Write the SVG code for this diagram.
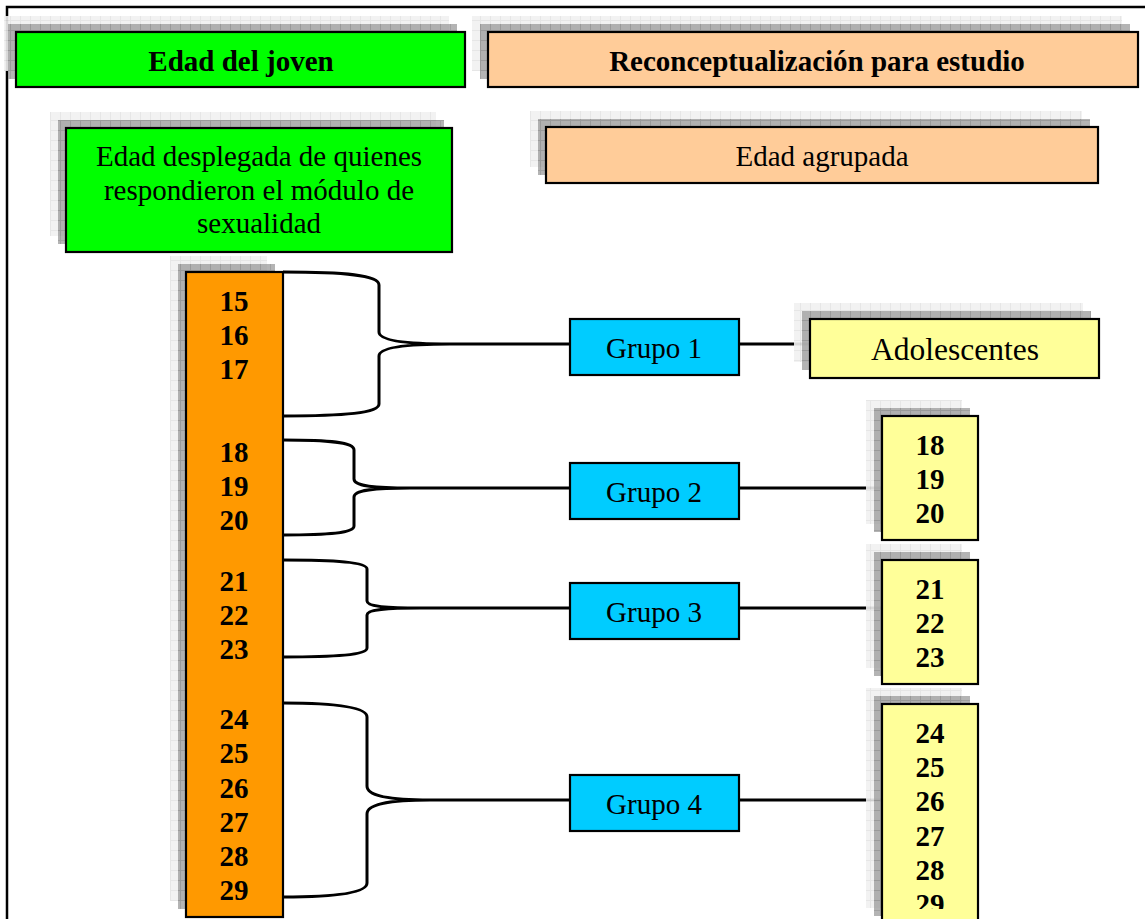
<svg xmlns="http://www.w3.org/2000/svg" width="1145" height="919" viewBox="0 0 1145 919">
  <defs>
    <!-- textured drop shadows: dark inner layer and pale outer layer -->
    <pattern id="shadeDark" width="10" height="10" patternUnits="userSpaceOnUse">
      <rect width="10" height="10" fill="#979797"/>
      <path d="M0 0.5H10M0.5 0V10" stroke="#7c7c7c" stroke-width="1"/>
    </pattern>
    <pattern id="shadeLight" width="10" height="10" patternUnits="userSpaceOnUse">
      <rect width="10" height="10" fill="#f1f1f1"/>
      <path d="M0 0.5H10M0.5 0V10" stroke="#e3e3e3" stroke-width="1"/>
    </pattern>
    <clipPath id="clipLastRange">
      <rect x="882" y="704" width="96" height="205"/>
    </clipPath>
    <style>
      .frame { fill: none; stroke: #000; stroke-width: 2.5; }
      .sh1 { fill: url(#shadeLight); opacity: 0.9; }
      .sh2 { fill: url(#shadeDark); opacity: 0.72; }
      .box { stroke: #000; stroke-width: 2.2; }
      .green { fill: #00ff00; }
      .peach { fill: #ffcc99; }
      .orange { fill: #ff9900; }
      .blue { fill: #00ccff; }
      .yellow { fill: #ffff99; }
      .t { font-family: "Liberation Serif", "Times New Roman", serif; font-size: 29px; fill: #000; text-anchor: middle; }
      .b { font-weight: bold; }
      .big { font-size: 31.5px; }
      .wire { fill: none; stroke: #000; stroke-width: 3; stroke-linejoin: round; stroke-linecap: butt; }
    </style>
  </defs>

  <rect width="1145" height="919" fill="#fff"/>

  <!-- page frame -->
  <path class="frame" d="M7,919 V7 H1145"/>

  <!-- connectors: braces from the age column to each group, then on to the results -->
  <g id="connectors">
    <path class="wire" d="M283,272 C345,272 379,275 379,285 L379,332 C379,340 402,344 450,344 L570,344 M283,416 C345,416 379,413 379,404 L379,356 C379,348 402,344 450,344"/>
    <path class="wire" d="M739,344 H810"/>

    <path class="wire" d="M283,440 C330,440 354,442 354,450 L354,479 C354,486 372,488 410,488 L570,488 M283,535 C330,535 354,533 354,526 L354,497 C354,490 372,488 410,488"/>
    <path class="wire" d="M739,488 H882"/>

    <path class="wire" d="M283,560 C335,560 367,562 367,569 L367,601 C367,606 382,608 420,608 L570,608 M283,657 C335,657 367,655 367,648 L367,615 C367,610 382,608 420,608"/>
    <path class="wire" d="M739,608 H882"/>

    <path class="wire" d="M283,703 C335,703 367,707 367,717 L367,786 C367,795 385,800 430,800 L570,800 M283,897 C335,897 367,893 367,883 L367,814 C367,805 385,800 430,800"/>
    <path class="wire" d="M739,800 H882"/>
  </g>

  <!-- column headers -->
  <g id="header-edad-joven">
    <rect class="sh1" x="4" y="16" width="445" height="55"/>
    <rect class="sh2" x="8" y="24" width="449" height="55"/>
    <rect class="box green" x="16" y="32" width="449" height="55"/>
    <text class="t b" x="241" y="71">Edad del joven</text>
  </g>

  <g id="header-reconceptualizacion">
    <rect class="sh1" x="472" y="16" width="650" height="55"/>
    <rect class="sh2" x="480" y="24" width="650" height="55"/>
    <rect class="box peach" x="488" y="32" width="650" height="55"/>
    <text class="t b" x="817" y="71">Reconceptualización para estudio</text>
  </g>

  <!-- sub headers -->
  <g id="edad-desplegada">
    <rect class="sh1" x="50" y="112" width="386" height="124"/>
    <rect class="sh2" x="58" y="120" width="386" height="124"/>
    <rect class="box green" x="66" y="128" width="386" height="124"/>
    <text class="t" x="259" y="166">Edad desplegada de quienes</text>
    <text class="t" x="259" y="200">respondieron el módulo de</text>
    <text class="t" x="259" y="233">sexualidad</text>
  </g>

  <g id="edad-agrupada">
    <rect class="sh1" x="530" y="111" width="552" height="56"/>
    <rect class="sh2" x="538" y="119" width="552" height="56"/>
    <rect class="box peach" x="546" y="127" width="552" height="56"/>
    <text class="t" x="822" y="166">Edad agrupada</text>
  </g>

  <!-- single ages 15 to 29 -->
  <g id="edades-desplegadas">
    <rect class="sh1" x="170" y="256" width="97" height="645"/>
    <rect class="sh2" x="178" y="264" width="97" height="645"/>
    <rect class="box orange" x="186" y="272" width="97" height="645"/>
    <g class="t b">
      <text x="234" y="311">15</text>
      <text x="234" y="345">16</text>
      <text x="234" y="379">17</text>
      <text x="234" y="462">18</text>
      <text x="234" y="496">19</text>
      <text x="234" y="530">20</text>
      <text x="234" y="591">21</text>
      <text x="234" y="625">22</text>
      <text x="234" y="659">23</text>
      <text x="234" y="729">24</text>
      <text x="234" y="763">25</text>
      <text x="234" y="798">26</text>
      <text x="234" y="832">27</text>
      <text x="234" y="866">28</text>
      <text x="234" y="900">29</text>
    </g>
  </g>

  <!-- groups -->
  <g id="grupo-1">
    <rect class="box blue" x="570" y="319" width="169" height="56"/>
    <text class="t" x="654" y="358">Grupo 1</text>
  </g>
  <g id="grupo-2">
    <rect class="box blue" x="570" y="463" width="169" height="56"/>
    <text class="t" x="654" y="502">Grupo 2</text>
  </g>
  <g id="grupo-3">
    <rect class="box blue" x="570" y="583" width="169" height="56"/>
    <text class="t" x="654" y="622">Grupo 3</text>
  </g>
  <g id="grupo-4">
    <rect class="box blue" x="570" y="775" width="169" height="56"/>
    <text class="t" x="654" y="814">Grupo 4</text>
  </g>

  <!-- regrouped outcomes -->
  <g id="adolescentes">
    <rect class="sh1" x="794" y="303" width="289" height="59"/>
    <rect class="sh2" x="802" y="311" width="289" height="59"/>
    <rect class="box yellow" x="810" y="319" width="289" height="59"/>
    <text class="t big" x="955" y="360">Adolescentes</text>
  </g>

  <g id="rango-18-20">
    <rect class="sh1" x="866" y="400" width="96" height="124"/>
    <rect class="sh2" x="874" y="408" width="96" height="124"/>
    <rect class="box yellow" x="882" y="416" width="96" height="124"/>
    <g class="t b">
      <text x="930" y="455">18</text>
      <text x="930" y="489">19</text>
      <text x="930" y="523">20</text>
    </g>
  </g>

  <g id="rango-21-23">
    <rect class="sh1" x="866" y="544" width="96" height="124"/>
    <rect class="sh2" x="874" y="552" width="96" height="124"/>
    <rect class="box yellow" x="882" y="560" width="96" height="124"/>
    <g class="t b">
      <text x="930" y="599">21</text>
      <text x="930" y="633">22</text>
      <text x="930" y="667">23</text>
    </g>
  </g>

  <g id="rango-24-29">
    <rect class="sh1" x="866" y="688" width="96" height="220"/>
    <rect class="sh2" x="874" y="696" width="96" height="220"/>
    <rect class="box yellow" x="882" y="704" width="96" height="222"/>
    <g class="t b" clip-path="url(#clipLastRange)">
      <text x="930" y="743">24</text>
      <text x="930" y="777">25</text>
      <text x="930" y="811">26</text>
      <text x="930" y="846">27</text>
      <text x="930" y="880">28</text>
      <text x="930" y="914">29</text>
    </g>
  </g>
</svg>
